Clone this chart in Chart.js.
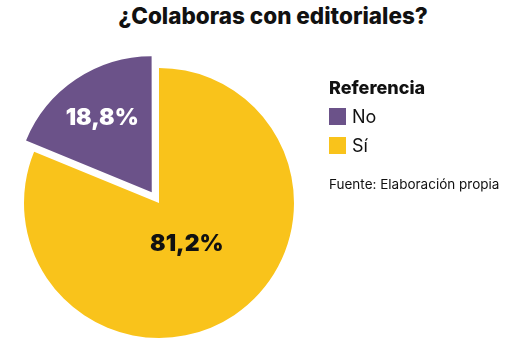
<!DOCTYPE html>
<html>
<head>
<meta charset="utf-8">
<script src="https://cdn.jsdelivr.net/npm/chart.js@4"></script>
<style>
  html, body { margin:0; padding:0; background:#fff; }
  #wrap { position:relative; width:517px; height:352px; overflow:hidden; font-family:Inter, "Open Sans", sans-serif; }
  #title { position:absolute; left:0; width:546px; top:2px; text-align:center; font-weight:800; font-size:22.5px; color:#111; }
  #legend { position:absolute; left:329px; top:77px; color:#111; }
  #legend .head { font-weight:800; font-size:18px; margin-bottom:10px; }
  #legend .item { display:flex; align-items:center; height:17px; margin-bottom:12px; font-size:18px; }
  #legend .box { width:17px; height:17px; margin-right:6px; }
  #source { position:absolute; left:329px; top:176px; font-size:13.5px; color:#111; }
  canvas { position:absolute; left:0; top:0; }
</style>
</head>
<body>
<div id="wrap">
  <div id="title">¿Colaboras con editoriales?</div>
  <canvas id="pie" width="517" height="352"></canvas>
  <div id="legend"><div class="head">Referencia</div></div>
  <div id="source">Fuente: Elaboración propia</div>
</div>
<script>
// data
const categories = ['No', 'Sí'];
const values = [18.8, 81.2];
const valueLabels = ['18,8%', '81,2%'];
const colors = ['#6b5289', '#f9c31b'];
const labelColors = ['#ffffff', '#111111'];
const pullOut = [13, 0];          // px the slice is moved out
const labelRadius = [0.66, 0.37];

(function(){
  // legend
  const legend = document.getElementById('legend');
  categories.forEach((c, i) => {
    const row = document.createElement('div');
    row.className = 'item';
    row.innerHTML = `<span class="box" style="background:${colors[i]}"></span><span>${c}</span>`;
    legend.appendChild(row);
  });

  const total = values.reduce((a, b) => a + b, 0);

  // draws the percentage inside each slice
  const sliceLabels = {
    id: 'sliceLabels',
    afterDatasetsDraw(chart) {
      const ctx = chart.ctx;
      const meta = chart.getDatasetMeta(0);
      ctx.save();
      ctx.font = '900 23px Inter, "Open Sans", sans-serif';
      ctx.textAlign = 'center';
      ctx.textBaseline = 'middle';
      meta.data.forEach((arc, i) => {
        const p = arc.getProps(['x', 'y', 'startAngle', 'endAngle', 'outerRadius']);
        const mid = (p.startAngle + p.endAngle) / 2;
        const d = p.outerRadius * labelRadius[i] + pullOut[i];
        ctx.fillStyle = labelColors[i];
        ctx.fillText(valueLabels[i], p.x + Math.cos(mid) * d, p.y + Math.sin(mid) * d);
      });
      ctx.restore();
    }
  };

  new Chart(document.getElementById('pie'), {
    type: 'pie',
    data: {
      labels: categories,
      // arc offset is divided by 4 when drawn in v4
      datasets: [{ data: values, backgroundColor: colors, borderWidth: 0, offset: pullOut.map(v => v * 4), hoverOffset: 0, radius: 135 }]
    },
    options: {
      responsive: false,
      animation: false,
      rotation: -values[0] / total * 360,
      layout: { padding: { left: 17, top: 61, right: 216, bottom: 7 } },
      plugins: { legend: { display: false }, tooltip: { enabled: false } }
    },
    plugins: [sliceLabels]
  });
})();
</script>
</body>
</html>
